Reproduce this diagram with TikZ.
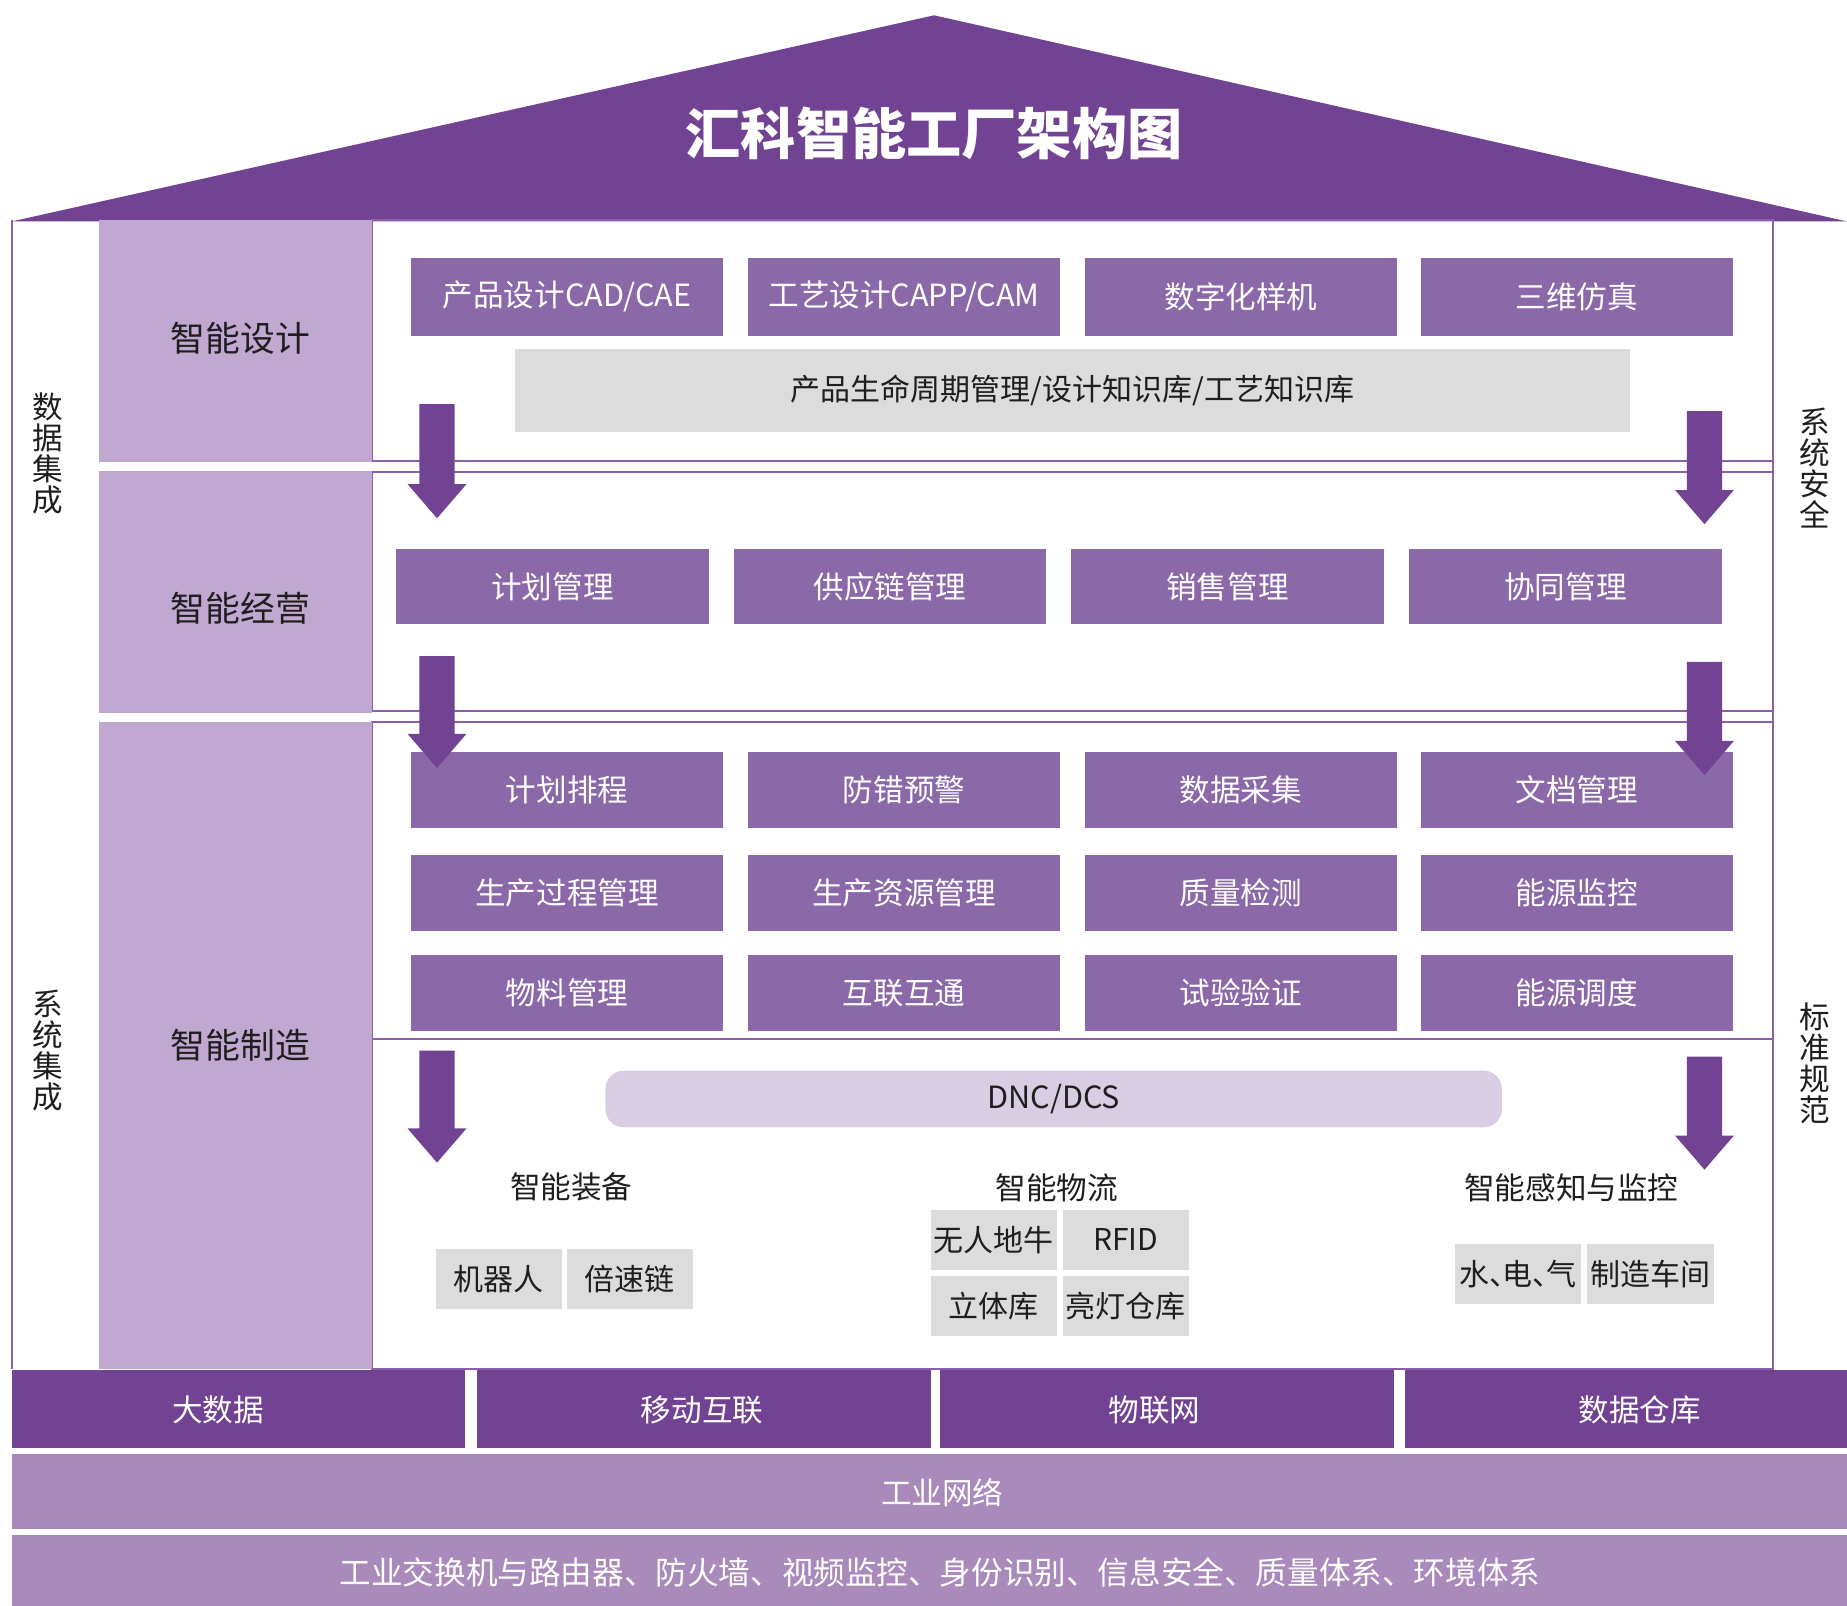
\documentclass[tikz,border=0pt]{standalone}
\usepackage{fontspec}
\setmainfont{Noto Sans CJK SC}
\definecolor{darkp}{RGB}{113,67,146}
\definecolor{boxp}{RGB}{139,104,168}
\definecolor{lightp}{RGB}{193,168,209}
\definecolor{barp}{RGB}{169,138,187}
\definecolor{dncp}{RGB}{217,205,227}
\definecolor{grayb}{RGB}{220,220,220}
\definecolor{linep}{RGB}{140,95,170}
\definecolor{txt}{RGB}{30,30,30}
\newcommand\fs[1]{\fontsize{#1}{#1}\selectfont}
\newcommand\bx[7]{\node[#6,minimum width={(#4-#2)*0.589pt},minimum height={(#5-#3)*0.589pt}] (#1) at ({(#2+#4)/2},{(#3+#5)/2}) {#7};}
\newcommand\darrow[4]{%
  \coordinate (#1) at (#2,#4);
  \fill[darkp] ({#2-15},#3) -- ({#2+15},#3) -- ({#2+15},{#4-29}) -- ({#2+25},{#4-29}) -- (#1) -- ({#2-25},{#4-29}) -- ({#2-15},{#4-29}) -- cycle;}
\tikzset{
  base/.style={inner sep=0pt,outer sep=0pt,rectangle},
  pbox/.style={base,fill=boxp,text=white,font=\fs{15.3}},
  gbox/.style={base,fill=grayb,text=txt,font=\fs{15}},
  sidebox/.style={base,fill=lightp},
  sidetxt/.style={inner sep=0pt,text=txt,font=\fs{17.4}},
  sect/.style={base,draw=linep,line width=1pt},
  dbar/.style={base,fill=darkp},
  lbar/.style={base,fill=barp},
  bartxt/.style={inner sep=0pt,text=white,font=\fs{15.3}},
  lbl/.style={inner sep=0pt,text=txt,font=\fs{15.3}},
  vlbl/.style={inner sep=0pt,text=txt,align=center,font=\fontsize{15.3}{15.5}\selectfont},
}
\begin{document}
\begin{tikzpicture}[x=0.589pt,y=-0.589pt]
\useasboundingbox (0,0) rectangle (1568,1363);
\fill[white] (0,0) rectangle (1568,1363);
% roof
\coordinate (roofL) at (10,188);
\coordinate (roofT) at (793,13);
\coordinate (roofR) at (1568,188);
\fill[darkp] (roofL) -- (roofT) -- (roofR) -- cycle;
\node[inner sep=0pt,text=white,font=\bfseries\fs{27.6}] (title) at (793,113) {汇科智能工厂架构图};
% outer frame
\draw[linep,line width=1pt] (10,187) -- (10,1162);
\draw[linep,line width=1pt] (1505,187) -- (1505,1162);
% sections
\bx{s1}{316}{187}{1505}{391}{sect}{}
\bx{s2}{316}{401}{1505}{604}{sect}{}
\bx{s3}{316}{613}{1505}{1162}{sect}{}
\draw[linep,line width=1pt] (316,882) -- (1505,882);
% left column
\bx{c1}{84}{187}{316}{392}{sidebox}{}
\bx{c2}{84}{400}{316}{605}{sidebox}{}
\bx{c3}{84}{613}{316}{1162}{sidebox}{}
\node[sidetxt] (c1t) at (204,287) {智能设计};
\node[sidetxt] (c2t) at (204,516) {智能经营};
\node[sidetxt] (c3t) at (204,887) {智能制造};
% side labels
\node[vlbl] (v1) at (41,385) {数\\据\\集\\成};
\node[vlbl] (v2) at (41,892) {系\\统\\集\\成};
\node[vlbl] (v3) at (1541,397) {系\\统\\安\\全};
\node[vlbl] (v4) at (1541,903) {标\\准\\规\\范};
% section 1
\bx{d1}{349}{219}{614}{285}{pbox}{产品设计CAD/CAE}
\bx{d2}{635}{219}{900}{285}{pbox}{工艺设计CAPP/CAM}
\bx{d3}{921}{219}{1186}{285}{pbox}{数字化样机}
\bx{d4}{1206}{219}{1471}{285}{pbox}{三维仿真}
\bx{plm}{437}{296}{1384}{367}{gbox}{产品生命周期管理/设计知识库/工艺知识库}
% section 2
\bx{o1}{336}{466}{602}{530}{pbox}{计划管理}
\bx{o2}{623}{466}{888}{530}{pbox}{供应链管理}
\bx{o3}{909}{466}{1175}{530}{pbox}{销售管理}
\bx{o4}{1196}{466}{1462}{530}{pbox}{协同管理}
% section 3
\bx{m11}{349}{638}{614}{703}{pbox}{计划排程}
\bx{m12}{635}{638}{900}{703}{pbox}{防错预警}
\bx{m13}{921}{638}{1186}{703}{pbox}{数据采集}
\bx{m14}{1206}{638}{1471}{703}{pbox}{文档管理}
\bx{m21}{349}{726}{614}{790}{pbox}{生产过程管理}
\bx{m22}{635}{726}{900}{790}{pbox}{生产资源管理}
\bx{m23}{921}{726}{1186}{790}{pbox}{质量检测}
\bx{m24}{1206}{726}{1471}{790}{pbox}{能源监控}
\bx{m31}{349}{811}{614}{875}{pbox}{物料管理}
\bx{m32}{635}{811}{900}{875}{pbox}{互联互通}
\bx{m33}{921}{811}{1186}{875}{pbox}{试验验证}
\bx{m34}{1206}{811}{1471}{875}{pbox}{能源调度}
% DNC
\node[base,fill=dncp,rounded corners=9pt,text=txt,font=\fs{15.3},minimum width={761*0.589pt},minimum height={48*0.589pt}] (dnc) at (894.5,933) {DNC/DCS};
% groups
\node[lbl] (g1) at (485,1008) {智能装备};
\node[lbl] (g2) at (897,1008) {智能物流};
\node[lbl] (g3) at (1334,1008) {智能感知与监控};
\bx{e1}{370}{1060}{477}{1111}{gbox}{机器人}
\bx{e2}{481}{1060}{588}{1111}{gbox}{倍速链}
\bx{l1}{790}{1027}{897}{1078}{gbox}{无人地牛}
\bx{l2}{902}{1027}{1009}{1078}{gbox}{RFID}
\bx{l3}{790}{1083}{897}{1134}{gbox}{立体库}
\bx{l4}{902}{1083}{1009}{1134}{gbox}{亮灯仓库}
\bx{p1}{1235}{1056}{1342}{1107}{gbox}{水、\kern-0.55em电、\kern-0.55em气}
\bx{p2}{1347}{1056}{1455}{1107}{gbox}{制造车间}
% bottom bars
\bx{b1}{10}{1163}{395}{1229}{dbar}{}
\bx{b2}{405}{1163}{790}{1229}{dbar}{}
\bx{b3}{798}{1163}{1183}{1229}{dbar}{}
\bx{b4}{1193}{1163}{1568}{1229}{dbar}{}
\node[bartxt] (b1t) at (185,1197) {大数据};
\node[bartxt] (b2t) at (596,1197) {移动互联};
\node[bartxt] (b3t) at (980,1197) {物联网};
\node[bartxt] (b4t) at (1392,1197) {数据仓库};
\bx{net}{10}{1234}{1568}{1298}{lbar}{}
\bx{inf}{10}{1303}{1568}{1363}{lbar}{}
\node[bartxt] (nett) at (800,1267) {工业网络};
\node[bartxt,font=\fs{15.8}] (inft) at (798,1335) {工业交换机与路由器、防火墙、视频监控、身份识别、信息安全、质量体系、环境体系};
% arrows
\darrow{a1}{371}{343}{440}
\darrow{a2}{1447}{349}{445}
\darrow{a3}{371}{557}{652}
\darrow{a4}{1447}{562}{658}
\darrow{a5}{371}{892}{987}
\darrow{a6}{1447}{897}{993}
\end{tikzpicture}
\end{document}
